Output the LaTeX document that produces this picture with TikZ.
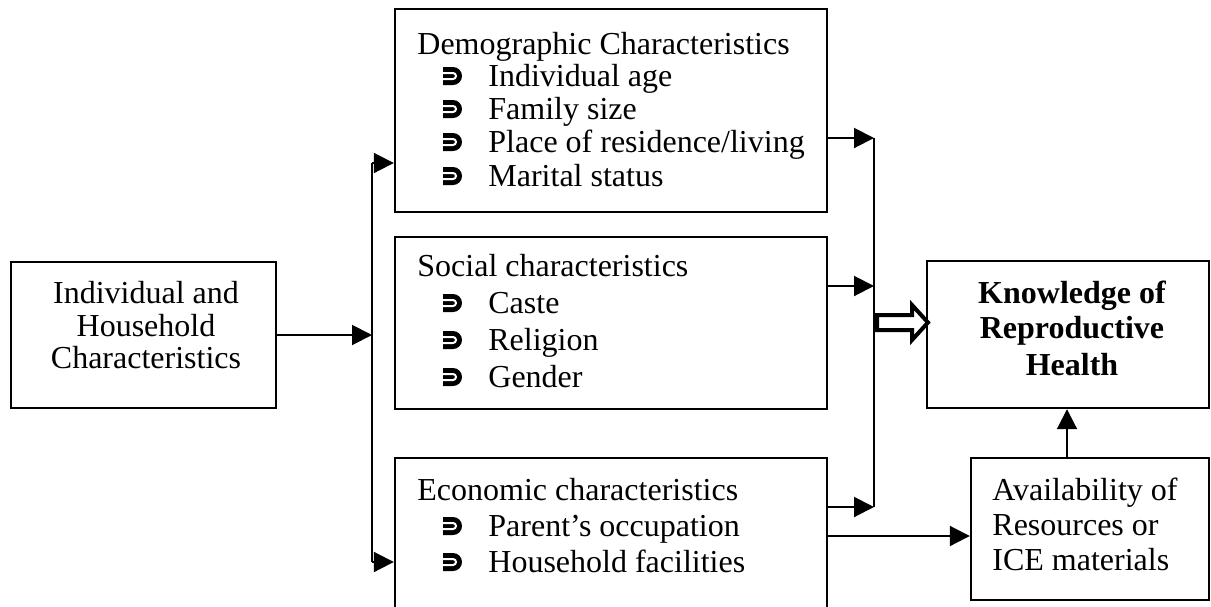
\documentclass[tikz,border=0pt]{standalone}
\usepackage{fontspec}
\setmainfont{Liberation Serif}
\usetikzlibrary{arrows.meta}

\tikzset{
  box/.style={draw, line width=1.2pt, inner sep=0pt, fill=white},
  midtext/.style={anchor=base west, inner sep=0pt, font=\fontsize{16pt}{18pt}\selectfont},
  bigtext/.style={anchor=base, inner sep=0pt, font=\fontsize{16pt}{18pt}\selectfont},
  boldtext/.style={bigtext, font=\fontsize{16pt}{18pt}\selectfont\bfseries},
  bus/.style={line width=1.1pt},
  arr/.style={line width=1pt, -{Triangle[length=10pt,width=10pt]}},
  hollow/.style={draw=black, fill=white, line width=2pt, line join=miter},
  abullet/.pic={
    \fill (0,-9) -- (10,-9) arc[start angle=-90, end angle=90, radius=9] -- (0,9) -- cycle;
    \draw[white, line width=1pt] (0,-3) -- (10,-3) arc[start angle=-90, end angle=90, radius=3] -- (0,3);
  }
}

\begin{document}
\begin{tikzpicture}[x=0.5pt, y=-0.5pt]
  \useasboundingbox (0,0) rectangle (1211,606);
  \clip (0,0) rectangle (1211,606);

  % boxes
  \node[box, minimum width=132.5pt, minimum height=73pt] (hh) at (143.5,335) {};
  \node[box, minimum width=216pt, minimum height=101.5pt] (demo) at (611,110.5) {};
  \node[box, minimum width=216pt, minimum height=86pt] (soc) at (611,323) {};
  \node[box, minimum width=216pt, minimum height=111pt] (eco) at (611,569) {};
  \node[box, minimum width=141pt, minimum height=73.5pt] (know) at (1068,334.5) {};
  \node[box, minimum width=119pt, minimum height=71pt] (avail) at (1090,529) {};

  % left box text
  \node[bigtext] (hh1) at (146,303) {Individual and};
  \node[bigtext] (hh2) at (146,336) {Household};
  \node[bigtext] (hh3) at (146,368) {Characteristics};

  % demographic characteristics
  \node[midtext] (d0) at (417,54) {Demographic Characteristics};
  \node[midtext] (d1) at (488,86) {Individual age};
  \node[midtext] (d2) at (488,119) {Family size};
  \node[midtext] (d3) at (488,152) {Place of residence/living};
  \node[midtext] (d4) at (488,186) {Marital status};
  \foreach \y in {86,119,152,186} \pic at (443,\y-10) {abullet};

  % social characteristics
  \node[midtext] (s0) at (417,276) {Social characteristics};
  \node[midtext] (s1) at (488,313) {Caste};
  \node[midtext] (s2) at (488,350) {Religion};
  \node[midtext] (s3) at (488,387) {Gender};
  \foreach \y in {313,350,387} \pic at (443,\y-10) {abullet};

  % economic characteristics
  \node[midtext] (e0) at (417,500) {Economic characteristics};
  \node[midtext] (e1) at (488,536) {Parent’s occupation};
  \node[midtext] (e2) at (488,572) {Household facilities};
  \foreach \y in {536,572} \pic at (443,\y-10) {abullet};

  % outcome
  \node[boldtext] (k1) at (1072,303) {Knowledge of};
  \node[boldtext] (k2) at (1072,338) {Reproductive};
  \node[boldtext] (k3) at (1072,375) {Health};

  % resources
  \node[bigtext, anchor=base west] (a1) at (992,500) {Availability of};
  \node[bigtext, anchor=base west] (a2) at (992,535) {Resources or};
  \node[bigtext, anchor=base west] (a3) at (992,570) {ICE materials};

  % left distribution bus
  \coordinate (lin) at (372,335);
  \coordinate (ltop) at (372,163);
  \coordinate (lbot) at (372,562);
  \draw[arr] (hh.east |- lin) -- (lin);
  \draw[bus] (ltop) -- (lbot);
  \draw[arr] (ltop) -- (ltop -| demo.west);
  \draw[arr] (lbot) -- (lbot -| eco.west);

  % right collecting bus
  \coordinate (rtop) at (874,138);
  \coordinate (rmid) at (874,286);
  \coordinate (rbot) at (874,507);
  \draw[bus] (rtop) -- (rbot);
  \draw[arr] (rtop -| demo.east) -- (rtop);
  \draw[arr] (rmid -| soc.east) -- (rmid);
  \draw[arr] (rbot -| eco.east) -- (rbot);

  % hollow arrow into the outcome box
  \path[hollow] (877,315) -- (912,315) -- (912,305) -- (928,322.5)
    -- (912,340) -- (912,330) -- (877,330) -- cycle;

  % resources links
  \coordinate (ea) at (827,536);
  \draw[arr] (ea -| eco.east) -- (ea -| avail.west);
  \coordinate (up) at (1067,458);
  \draw[arr] (up |- avail.north) -- (up |- know.south);
\end{tikzpicture}
\end{document}
